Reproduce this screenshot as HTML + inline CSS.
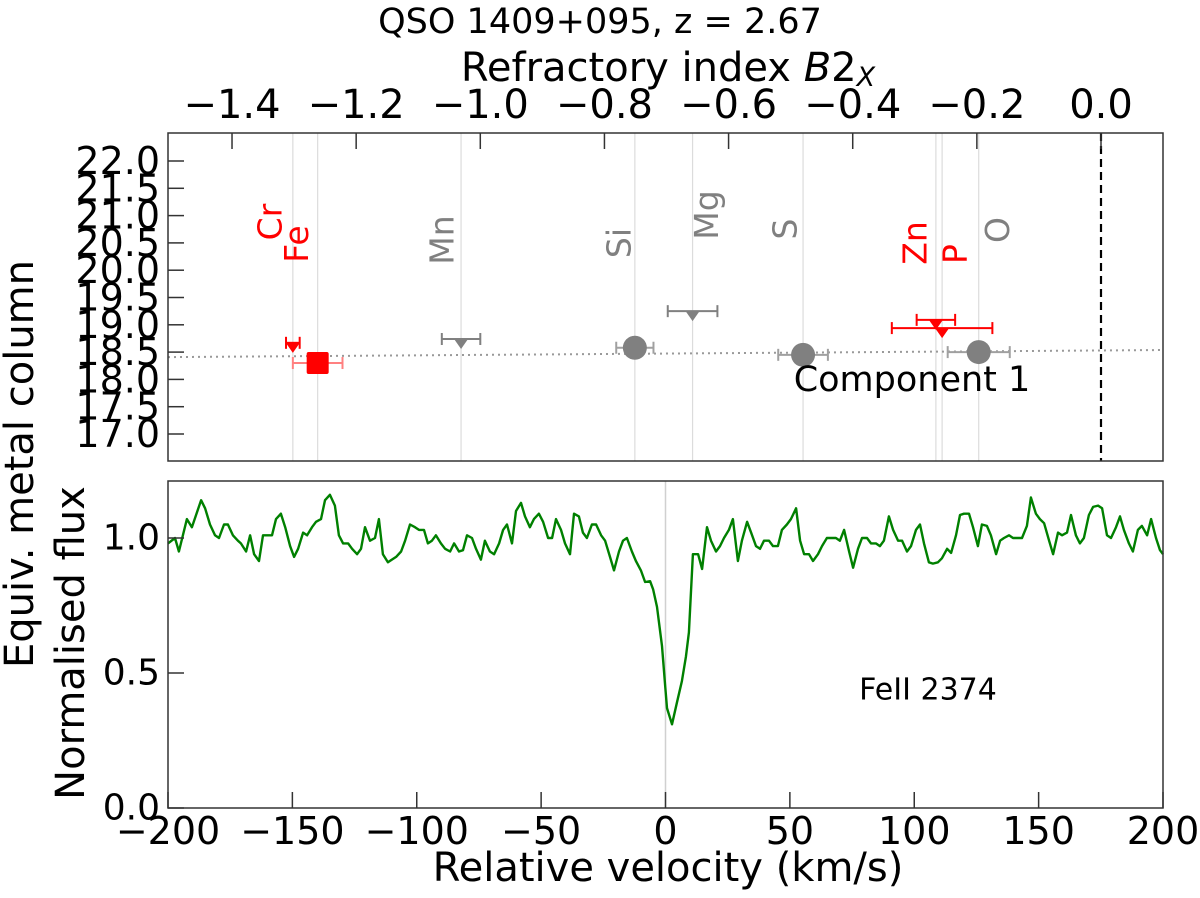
<!DOCTYPE html>
<html><head><meta charset="utf-8"><style>
html,body{margin:0;padding:0;background:#fff;}
svg{display:block;font-family:"DejaVu Sans","Liberation Sans",sans-serif;}
</style></head><body>
<svg id="fig" width="1200" height="898" viewBox="0 0 1200 898" xmlns="http://www.w3.org/2000/svg">
<rect x="0" y="0" width="1200" height="898" fill="#fff"/>
<text x="600" y="22" font-size="35" text-anchor="middle" dominant-baseline="central">QSO 1409+095, z = 2.67</text>
<text x="668" y="68" font-size="40" text-anchor="middle" dominant-baseline="central">Refractory index <tspan font-style="italic">B</tspan>2<tspan font-style="italic" font-size="27" dy="9">X</tspan></text>
<text x="20" y="464" font-size="40" text-anchor="middle" dominant-baseline="central" transform="rotate(-90 20 464)">Equiv. metal column</text>
<text x="71" y="643" font-size="40" text-anchor="middle" dominant-baseline="central" transform="rotate(-90 71 643)">Normalised flux</text>
<text x="668" y="868" font-size="40" text-anchor="middle" dominant-baseline="central">Relative velocity (km/s)</text>
<g id="topPanel"></g>
<g id="botPanel"></g>
</svg>
<script>
const elements = ["Cr","Fe","Mn","Si","Mg","S","Zn","P","O"];
const b2x = [-1.302,-1.262,-1.031,-0.751,-0.658,-0.480,-0.266,-0.256,-0.197];
const b2xErr = [0.011,0.040,0.031,0.030,0.040,0.040,0.031,0.081,0.050];
const column = [18.67,18.30,18.74,18.58,19.25,18.45,19.09,18.94,18.50];
const markerType = ["upper","meas","upper","meas","upper","meas","upper","upper","meas"];
const isRed = [true,true,false,false,false,false,true,true,false];
const fitIntercept = 18.53;
const fitSlope = 0.081;
const topXTicks = [-1.4,-1.2,-1.0,-0.8,-0.6,-0.4,-0.2,0.0];
const topYTicks = [17.0,17.5,18.0,18.5,19.0,19.5,20.0,20.5,21.0,21.5,22.0];
const velTicks = [-200,-150,-100,-50,0,50,100,150,200];
const fluxTicks = [0.0,0.5,1.0];
const vel = [-200.0,-197.2,-195.6,-192.4,-190.4,-186.7,-185.1,-183.1,-181.1,-179.5,-177.5,-175.9,-173.9,-171.9,-170.7,-168.6,-167.0,-165.4,-163.4,-161.8,-159.8,-158.2,-156.6,-154.6,-152.9,-150.9,-149.3,-147.7,-145.7,-144.1,-142.1,-140.5,-138.5,-136.9,-134.9,-132.9,-131.3,-129.6,-127.6,-126.0,-124.0,-122.4,-120.8,-118.8,-116.8,-115.2,-113.6,-111.6,-110.0,-108.3,-106.3,-104.7,-102.7,-100.7,-99.1,-97.1,-95.5,-93.9,-92.3,-90.3,-88.6,-86.6,-85.0,-83.0,-81.4,-79.8,-77.8,-76.2,-74.2,-72.6,-70.6,-68.9,-66.9,-65.3,-63.7,-61.7,-60.1,-58.1,-56.5,-54.5,-52.9,-50.9,-49.2,-47.2,-45.6,-44.0,-42.0,-40.4,-38.4,-36.8,-34.8,-33.2,-31.6,-29.6,-27.9,-25.9,-24.3,-22.3,-20.7,-18.7,-17.1,-15.5,-13.5,-11.9,-9.9,-8.2,-6.2,-5.0,-3.4,-1.4,-0.2,0.6,2.6,4.6,6.6,8.2,9.4,11.0,13.1,14.7,16.7,18.3,20.3,21.9,23.5,25.5,27.1,29.1,30.7,32.8,34.4,36.4,38.0,39.6,41.6,43.2,45.2,46.8,48.8,50.4,52.5,54.1,55.7,57.7,59.3,61.3,62.9,64.9,66.5,68.5,70.1,71.8,73.8,75.4,77.4,79.0,81.0,82.6,84.6,86.2,87.8,89.8,91.5,93.5,95.1,97.1,98.7,100.7,102.3,103.9,105.9,107.5,109.5,111.1,113.2,114.8,116.8,118.4,120.0,122.0,123.6,125.6,127.2,129.2,130.8,132.9,134.5,136.1,138.1,139.7,141.7,143.3,145.3,146.9,148.9,150.5,152.2,154.2,155.8,157.8,159.4,161.4,163.0,165.0,166.6,168.2,170.2,171.9,173.9,175.5,177.5,179.1,181.1,182.7,184.3,186.3,187.9,189.9,191.5,193.6,195.2,197.2,198.8,200.0];
const flux = [0.98,1.0,0.95,1.07,1.04,1.14,1.11,1.05,1.01,1.0,1.05,1.05,1.01,0.99,0.98,0.95,1.01,0.94,0.915,1.01,1.01,1.01,1.07,1.09,1.04,0.97,0.93,0.96,1.02,1.01,1.04,1.06,1.07,1.14,1.16,1.12,1.01,0.98,0.98,0.96,0.94,0.96,1.04,0.99,1.0,1.07,0.94,0.91,0.92,0.93,0.95,0.99,1.05,1.04,1.03,1.03,0.98,0.99,1.01,0.98,0.96,0.95,0.98,0.95,0.955,1.01,1.0,0.96,0.92,0.99,0.95,0.94,0.98,1.03,1.05,0.98,1.10,1.13,1.08,1.04,1.07,1.09,1.06,1.0,1.0,1.07,1.03,0.98,0.94,1.09,1.08,1.02,1.0,1.05,1.05,1.01,0.99,0.93,0.88,0.95,0.99,1.0,0.95,0.915,0.88,0.837,0.84,0.81,0.745,0.60,0.46,0.37,0.31,0.39,0.47,0.56,0.65,0.94,0.94,0.885,1.04,0.99,0.95,0.97,1.0,1.03,1.07,0.915,0.99,1.06,1.02,0.97,0.96,0.99,0.99,0.97,0.97,1.03,1.05,1.07,1.11,0.99,0.94,0.94,0.915,0.94,0.97,1.0,1.0,1.0,0.99,1.03,0.95,0.89,0.96,1.0,1.0,0.98,0.98,0.97,0.99,1.08,1.03,0.99,0.99,0.95,0.97,1.03,1.05,0.98,0.91,0.905,0.91,0.925,0.96,0.945,1.01,1.085,1.09,1.09,1.04,0.97,1.05,1.045,1.01,0.94,0.99,1.0,1.01,1.0,1.0,1.0,1.045,1.15,1.09,1.07,1.055,0.99,0.94,1.02,1.01,1.02,1.085,1.01,0.98,1.0,1.085,1.115,1.12,1.11,1.01,1.0,1.04,1.08,1.03,0.98,0.95,1.03,1.045,1.01,1.07,1.0,0.955,0.94];
// layout (not data)
const labelDx = [-23,-21,-19,-16,14,-18,-21,13,19];
const labelY = [222,244,240,243,215,229,243,254,230];

const NS="http://www.w3.org/2000/svg";
function mk(parent,tag,attrs){const e=document.createElementNS(NS,tag);for(const k in attrs)e.setAttribute(k,attrs[k]);parent.appendChild(e);return e;}
const L=168,R=1163,T1=133,B1=461,T2=481,B2=808;
const bx = b => 1101 + b*620.7;
const cy = c => 434 - (c-17)*54.6;
const vx = v => L + (v+200)/400*(R-L);
const fy = f => B2 - f*270;
const topG=document.getElementById('topPanel'), botG=document.getElementById('botPanel');

b2x.forEach((b,i)=>{
  const l=mk(topG,'line',{x1:bx(b),x2:bx(b),y1:T1,y2:B1,stroke:'#dcdcdc','stroke-width':1.2});
  
  
});
const fl=mk(topG,'line',{x1:L,x2:R,y1:cy(fitIntercept+fitSlope*((L-1101)/620.7)),y2:cy(fitIntercept+fitSlope*((R-1101)/620.7)),stroke:'#999','stroke-width':2,'stroke-dasharray':'2 4'});


const zl=mk(topG,'line',{x1:bx(0),x2:bx(0),y1:T1,y2:B1,stroke:'#000','stroke-width':2.2,'stroke-dasharray':'8 5'});


b2x.forEach((b,i)=>{
  const col=isRed[i]?'#ff0000':'#808080';
  const x=bx(b), y=cy(column[i]);
  const g=mk(topG,'g',{});
  
  
  const x0=bx(b-b2xErr[i]), x1=bx(b+b2xErr[i]);
  const ec = markerType[i]==='upper' ? col : (isRed[i]?'#ff8080':'#a0a0a0');
  mk(g,'line',{x1:x0,x2:x1,y1:y,y2:y,stroke:ec,'stroke-width':2});
  mk(g,'line',{x1:x0,x2:x0,y1:y-6,y2:y+6,stroke:ec,'stroke-width':2});
  mk(g,'line',{x1:x1,x2:x1,y1:y-6,y2:y+6,stroke:ec,'stroke-width':2});
  if(markerType[i]==='upper'){
    mk(g,'polygon',{points:`${x-7},${y} ${x+7},${y} ${x},${y+10}`,fill:col});
  } else if(isRed[i]){
    mk(g,'rect',{x:x-11,y:y-11,width:22,height:22,rx:2,fill:col});
  } else {
    mk(g,'circle',{cx:x,cy:y,r:12,fill:col});
  }
  const lx=x+labelDx[i], ly=labelY[i];
  const t=mk(topG,'text',{x:lx,y:ly,'font-size':33,fill:col,'text-anchor':'middle','dominant-baseline':'central',transform:`rotate(-90 ${lx} ${ly})`});
  t.textContent=elements[i];
  
  
});
const ct=mk(topG,'text',{x:912,y:380,'font-size':35,'text-anchor':'middle','dominant-baseline':'central'});
ct.textContent='Component 1';


const f1=mk(topG,'rect',{x:L,y:T1,width:R-L,height:B1-T1,fill:'none',stroke:'#333','stroke-width':1.5});


topXTicks.forEach(t=>{
  const x=bx(t);
  const tk=mk(topG,'line',{x1:x,x2:x,y1:T1,y2:T1+16,stroke:'#333','stroke-width':1.5});
  
  
  const tl=mk(topG,'text',{x:x,y:105,'font-size':40,'text-anchor':'middle','dominant-baseline':'central'});
  tl.textContent=(t<0?'\u2212':'')+Math.abs(t).toFixed(1);
  
  
});
topYTicks.forEach(t=>{
  const y=cy(t);
  const tk=mk(topG,'line',{x1:L,x2:L+16,y1:y,y2:y,stroke:'#333','stroke-width':1.5});
  
  
  const tl=mk(topG,'text',{x:160,y:y,'font-size':38,'text-anchor':'end','dominant-baseline':'central'});
  tl.textContent=t.toFixed(1);
  
  
});
const zv=mk(botG,'line',{x1:vx(0),x2:vx(0),y1:T2,y2:B2,stroke:'#d0d0d0','stroke-width':1.5});


const pts=vel.map((v,i)=>vx(v).toFixed(1)+','+fy(flux[i]).toFixed(1)).join(' ');
const sp=mk(botG,'polyline',{points:pts,fill:'none',stroke:'#008000','stroke-width':2.4,'stroke-linejoin':'round'});


const ft=mk(botG,'text',{x:928,y:690,'font-size':30,'text-anchor':'middle','dominant-baseline':'central'});
ft.textContent='FeII 2374';


const f2=mk(botG,'rect',{x:L,y:T2,width:R-L,height:B2-T2,fill:'none',stroke:'#333','stroke-width':1.5});


velTicks.forEach(t=>{
  const x=vx(t);
  const tk=mk(botG,'line',{x1:x,x2:x,y1:B2,y2:B2-16,stroke:'#333','stroke-width':1.5});
  
  
  const tl=mk(botG,'text',{x:x,y:831,'font-size':38,'text-anchor':'middle','dominant-baseline':'central'});
  tl.textContent=(t<0?'\u2212':'')+Math.abs(t);
  
  
});
fluxTicks.forEach(t=>{
  const y=fy(t);
  const tk=mk(botG,'line',{x1:L,x2:L+16,y1:y,y2:y,stroke:'#333','stroke-width':1.5});
  
  
  const tl=mk(botG,'text',{x:160,y:y,'font-size':36,'text-anchor':'end','dominant-baseline':'central'});
  tl.textContent=t.toFixed(1);
  
  
});
</script>
</body></html>
